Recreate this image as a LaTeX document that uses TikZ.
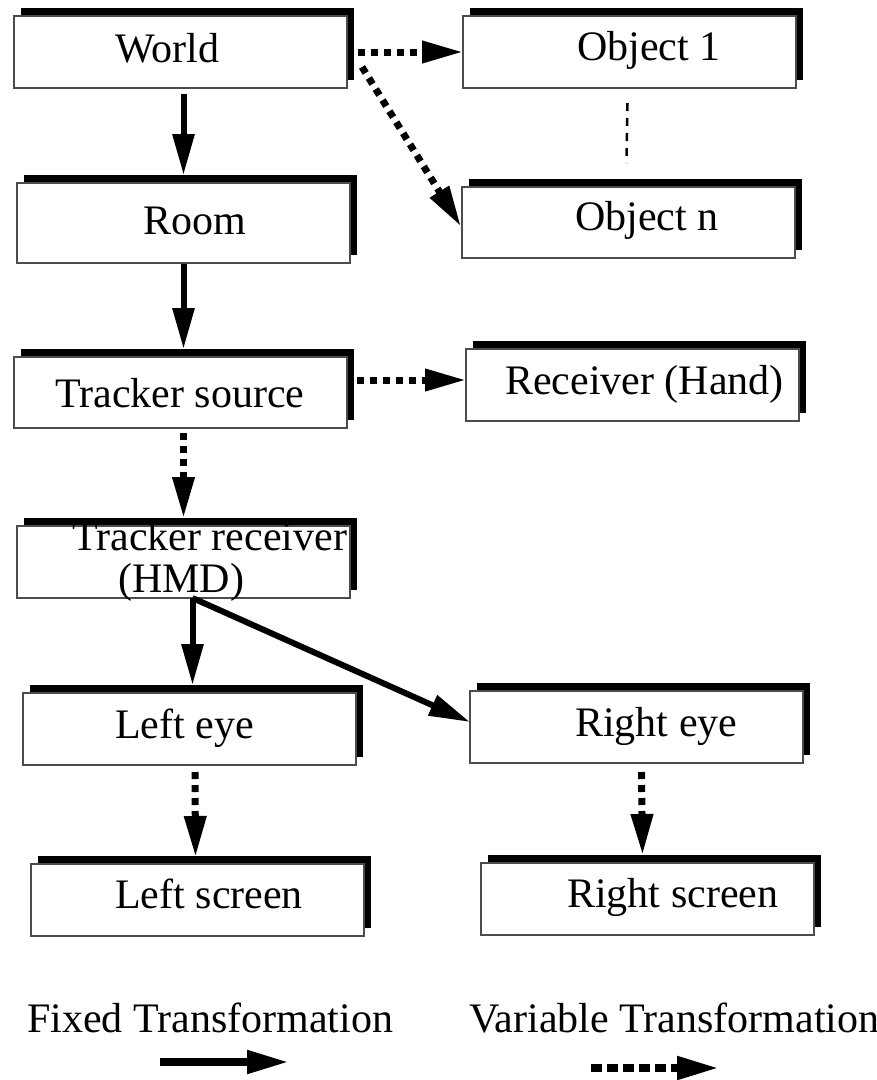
\documentclass[tikz,border=0pt]{standalone}
\usepackage{fontspec}
\setmainfont{Liberation Serif}
\usetikzlibrary{arrows.meta,calc,shadows}
\begin{document}
\begin{tikzpicture}[x=1pt,y=-1pt,
  box/.style={draw=black!70, line width=1.4pt, fill=white,
    minimum width=333pt, minimum height=72pt, inner sep=0pt, outer sep=0pt,
    anchor=north west,
    general shadow={fill=black, shadow xshift=7pt, shadow yshift=8pt}},
  lbl/.style={anchor=base west, inner sep=0pt, font=\fontsize{42}{43}\selectfont},
  fixedarr/.style={line width=6pt, -{Triangle[length=41pt,width=21pt]}},
  vararr/.style={line width=7pt, dash pattern=on 7pt off 6pt,
    -{Triangle[length=41pt,width=21pt]}},
  thindash/.style={line width=2.5pt, dash pattern=on 8pt off 7pt}
]
\useasboundingbox (0,0) rectangle (877,1080);
\fill[white] (0,0) rectangle (877,1080);

% boxes
\node[box] (world) at (14,16) {};
\node[box] (obj1)  at (463,16) {};
\node[box, minimum height=80pt] (room) at (17,183) {};
\node[box, minimum height=71pt] (objn) at (462,187) {};
\node[box, minimum height=71pt] (ts) at (14,357) {};
\node[box] (rcv) at (466,349) {};
\node[box] (tr) at (17,526) {};
\node[box] (le) at (23,693) {};
\node[box] (re) at (470,691) {};
\node[box] (ls) at (31,864) {};
\node[box] (rs) at (481,863) {};

% texts
\node[lbl] (worldT) at (115,62) {World};
\node[lbl] (obj1T) at (577,60) {Object 1};
\node[lbl] (roomT) at (143,234) {Room};
\node[lbl] (objnT) at (575,230) {Object n};
\node[lbl] (tsT) at (55,407) {Tracker source};
\node[lbl] (rcvT) at (505,394) {Receiver (Hand)};
\node[lbl] (trT1) at (72,550) {Tracker receiver};
\node[lbl] (trT2) at (118,592) {(HMD)};
\node[lbl] (leT) at (115,738) {Left eye};
\node[lbl] (reT) at (575,736) {Right eye};
\node[lbl] (lsT) at (115,908) {Left screen};
\node[lbl] (rsT) at (567,907) {Right screen};

% connectors
\draw[fixedarr] ($(world.south -| room.north)+(0,6)$) -- ($(room.north)+(0,-8)$);
\draw[fixedarr] ($(room.south)+(0,1)$) -- ($(ts.north -| room.south)+(0,-8)$);
\draw[vararr] ($(world.east)+(11,0)$) -- (obj1.west);
\draw[vararr] ($(world.east)+(15,15)$) -- ($(objn.west)+(-1,4)$);
\draw[thindash] ($(obj1.south)+(-2,15)$) -- ($(objn.north)+(-2,-24)$);
\draw[vararr] ($(ts.south -| tr.north)+(0,5)$) -- ($(tr.north)+(0,-8)$);
\draw[vararr] ($(ts.east |- rcv.west)+(10,-5)$) -- ($(rcv.west)+(0,-5)$);
\draw[fixedarr] ($(tr.south)+(9,0)$) -- ($(le.north)+(3,-8)$);
\draw[fixedarr] ($(tr.south)+(9,0)$) -- ($(re.west)+(0,-5)$);
\draw[vararr] ($(le.south)+(5.5,7)$) -- ($(ls.north)+(-2,-7)$);
\draw[vararr] ($(re.south)+(5,9)$) -- ($(rs.north)+(-5,-8)$);

% legend
\node[lbl] (fixT) at (27,1032) {Fixed Transformation};
\node[lbl] (varT) at (469,1032) {Variable Transformation};
\coordinate (fixS) at (160,1062);
\coordinate (fixE) at (289,1062);
\coordinate (varS) at (591,1068);
\coordinate (varE) at (719,1068);
\draw[line width=8pt, -{Triangle[length=42pt,width=22pt]}] (fixS) -- (fixE);
\draw[line width=8pt, dash pattern=on 11pt off 5pt, -{Triangle[length=42pt,width=22pt]}] (varS) -- (varE);
\end{tikzpicture}
\end{document}
